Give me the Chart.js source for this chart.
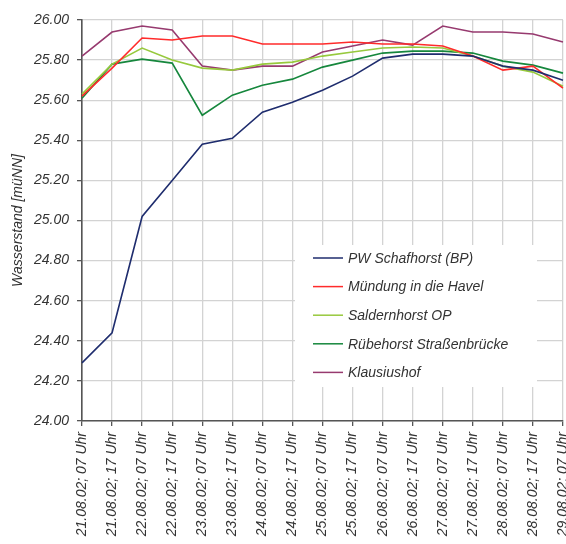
<!DOCTYPE html>
<html>
<head>
<meta charset="utf-8">
<script src="https://cdn.jsdelivr.net/npm/chart.js@4/dist/chart.umd.min.js"></script>
<style>
  html, body { margin: 0; padding: 0; background: #ffffff; }
  #wrap { width: 566px; height: 544px; overflow: hidden; }
</style>
</head>
<body>
<div id="wrap"><canvas id="c" width="566" height="544"></canvas></div>
<script>
// Messzeitpunkte
const timeLabels = [
  '21.08.02; 07 Uhr', '21.08.02; 17 Uhr',
  '22.08.02; 07 Uhr', '22.08.02; 17 Uhr',
  '23.08.02; 07 Uhr', '23.08.02; 17 Uhr',
  '24.08.02; 07 Uhr', '24.08.02; 17 Uhr',
  '25.08.02; 07 Uhr', '25.08.02; 17 Uhr',
  '26.08.02; 07 Uhr', '26.08.02; 17 Uhr',
  '27.08.02; 07 Uhr', '27.08.02; 17 Uhr',
  '28.08.02; 07 Uhr', '28.08.02; 17 Uhr',
  '29.08.02; 07 Uhr'
];

// Wasserstände [müNN] je Pegel
const schafhorst = [24.29, 24.44, 25.02, 25.20, 25.38, 25.41, 25.54, 25.59, 25.65, 25.72, 25.81, 25.83, 25.83, 25.82, 25.77, 25.75, 25.70];
const muendungHavel = [25.62, 25.76, 25.91, 25.90, 25.92, 25.92, 25.88, 25.88, 25.88, 25.89, 25.88, 25.88, 25.87, 25.82, 25.75, 25.77, 25.66];
const saldernhorst = [25.63, 25.78, 25.86, 25.80, 25.76, 25.75, 25.78, 25.79, 25.82, 25.84, 25.86, 25.865, 25.86, 25.82, 25.77, 25.74, 25.67];
const ruebehorst = [25.61, 25.78, 25.805, 25.785, 25.525, 25.625, 25.675, 25.705, 25.765, 25.80, 25.835, 25.845, 25.845, 25.835, 25.795, 25.775, 25.735];
const klausiushof = [25.82, 25.94, 25.97, 25.95, 25.77, 25.75, 25.77, 25.77, 25.84, 25.87, 25.90, 25.875, 25.97, 25.94, 25.94, 25.93, 25.89];

const seriesNames = ['PW Schafhorst (BP)', 'Mündung in die Havel', 'Saldernhorst OP', 'Rübehorst Straßenbrücke', 'Klausiushof'];

// Achse
const yMin = 24.0, yMax = 26.0, yStep = 0.2;
const yTitle = 'Wasserstand [müNN]';

const FONT = '"Liberation Sans", Arial, sans-serif';
const TEXT = '#333333';
const colors = ['#1f2d6e', '#ff2b2b', '#97c93d', '#16873d', '#973a6f'];
const seriesData = [schafhorst, muendungHavel, saldernhorst, ruebehorst, klausiushof];

// Legende im Diagrammbereich mit weißem Hintergrund
const innerLegend = {
  id: 'innerLegend',
  afterDatasetsDraw(chart) {
    const ctx = chart.ctx;
    const area = chart.chartArea;
    const boxX = area.left + 213, boxY = area.top + 225, boxW = 242, boxH = 142;
    ctx.save();
    ctx.fillStyle = '#ffffff';
    ctx.fillRect(boxX, boxY, boxW, boxH);
    ctx.font = 'italic 14px ' + FONT;
    ctx.textBaseline = 'middle';
    ctx.textAlign = 'left';
    chart.data.datasets.forEach((ds, i) => {
      const y = boxY + 13 + i * 28.6;
      ctx.strokeStyle = ds.borderColor;
      ctx.lineWidth = 1.5;
      ctx.beginPath();
      ctx.moveTo(boxX + 18, y);
      ctx.lineTo(boxX + 48, y);
      ctx.stroke();
      ctx.fillStyle = TEXT;
      ctx.fillText(ds.label, boxX + 53, y + 1);
    });
    ctx.restore();
  }
};

new Chart(document.getElementById('c'), {
  type: 'line',
  data: {
    labels: timeLabels,
    datasets: seriesNames.map((name, i) => ({
      label: name,
      data: seriesData[i],
      borderColor: colors[i],
      backgroundColor: colors[i],
      borderWidth: 1.6,
      pointRadius: 0,
      tension: 0,
      fill: false
    }))
  },
  options: {
    responsive: false,
    animation: false,
    events: [],
    layout: { padding: { top: 20, right: 3, left: 0, bottom: 0 } },
    plugins: {
      legend: { display: false },
      tooltip: { enabled: false }
    },
    scales: {
      x: {
        offset: false,
        grid: { color: '#d3d3d3', lineWidth: 1.3, tickColor: '#555555', tickLength: 5 },
        border: { color: '#555555', width: 1.6 },
        ticks: {
          autoSkip: false,
          maxRotation: 90,
          minRotation: 90,
          padding: 6,
          color: TEXT,
          font: { family: FONT, size: 14, style: 'italic' }
        },
        afterFit(scale) {
          scale.height = 123;
          scale.paddingLeft = 0;
          scale.paddingRight = 0;
        }
      },
      y: {
        min: yMin,
        max: yMax,
        grid: { color: '#d3d3d3', lineWidth: 1.3, tickColor: '#555555', tickLength: 5 },
        border: { color: '#555555', width: 1.6 },
        ticks: {
          stepSize: yStep,
          padding: 8,
          color: TEXT,
          font: { family: FONT, size: 14, style: 'italic' },
          callback: v => Number(v).toFixed(2)
        },
        title: {
          display: true,
          text: yTitle,
          color: TEXT,
          padding: { top: 10, bottom: 0 },
          font: { family: FONT, size: 14, style: 'italic' }
        },
        afterFit(scale) {
          scale.width = 82;
          scale.paddingTop = 0;
          scale.paddingBottom = 0;
        }
      }
    }
  },
  plugins: [innerLegend]
});
</script>
</body>
</html>
